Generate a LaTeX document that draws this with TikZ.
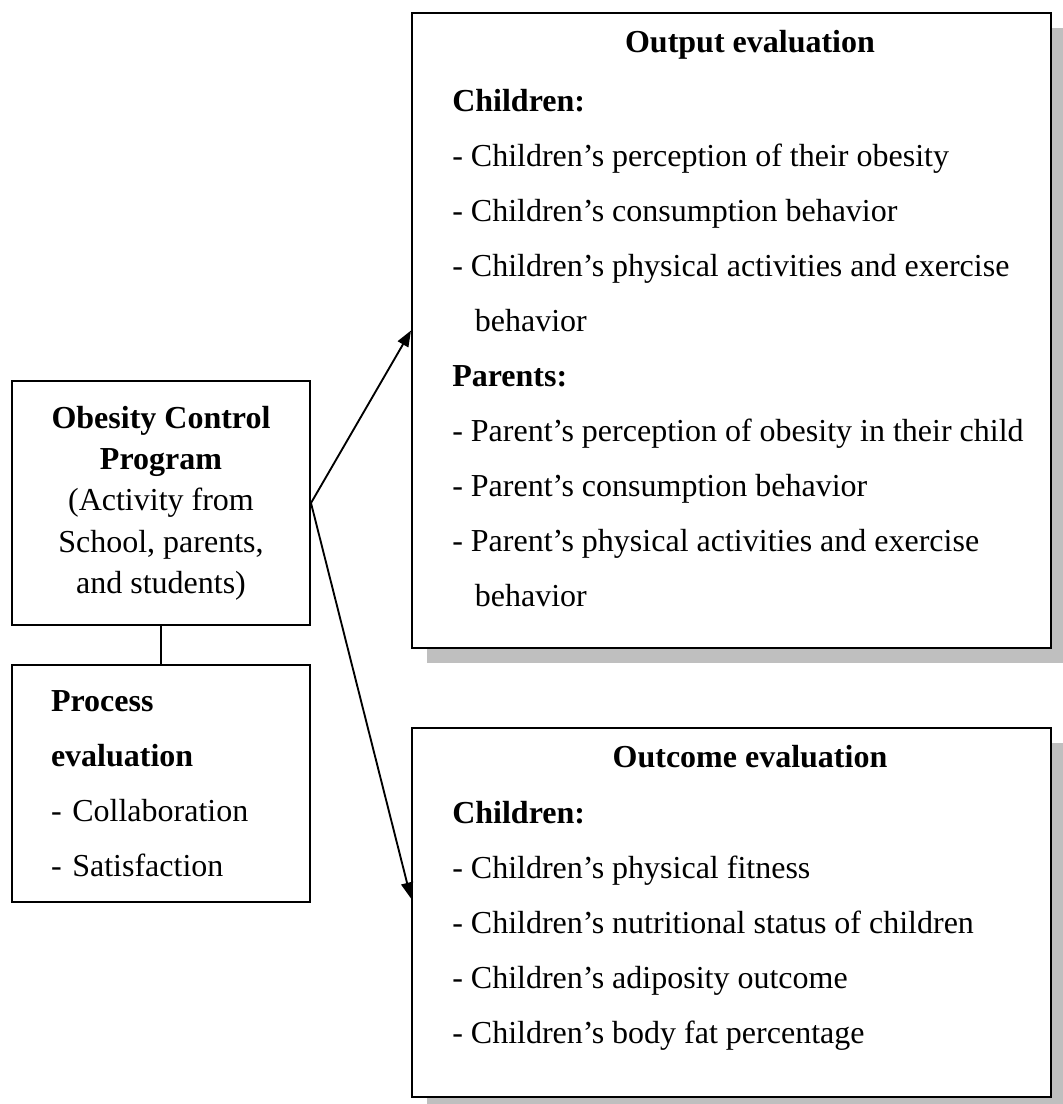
\documentclass[tikz,border=0pt]{standalone}
\usepackage{fontspec}
\setmainfont{Liberation Serif}
\usetikzlibrary{positioning, arrows.meta, shadows}

\begin{document}
\begin{tikzpicture}[
    x=0.75pt, y=-0.75pt,
    % Node styles
    box/.style={
        rectangle,
        draw=black,
        line width=1.5pt,
        fill=white,
        inner sep=0pt,
        align=center,
        font=\fontsize{24}{31}\selectfont
    },
    shadowbox/.style={
        box,
        drop shadow={shadow xshift=11pt, shadow yshift=-11pt, fill=black!25, opacity=1}
    },
    heading/.style={
        font=\fontsize{24}{29}\selectfont\bfseries,
        inner sep=0pt,
        anchor=base
    },
    itemlist/.style={
        align=left,
        font=\fontsize{24}{41.25}\selectfont,
        inner sep=0pt,
        anchor=base west
    },
    arrow/.style={
        -{Triangle[length=12pt, width=9pt]},
        line width=1.4pt
    },
    link/.style={line width=1.4pt}
]
\useasboundingbox (0,0) rectangle (1063,1104);

% Program and process boxes
\node[box, minimum width=223.5pt, minimum height=183pt] (prog) at (161,503) {
    \textbf{Obesity Control}\\
    \textbf{Program}\\
    (Activity from\\
    School, parents,\\
    and students)
};
\node[box, minimum width=223.5pt, minimum height=177.75pt, text width=165pt, align=left,
      font=\fontsize{24}{41.25}\selectfont] (proc) at (161,783.5) {
    \textbf{Process}\\
    \textbf{evaluation}\\
    - Collaboration\\
    - Satisfaction
};

% Output evaluation (list anchored at its last baseline)
\node[shadowbox, minimum width=479.25pt, minimum height=476.25pt] (output) at (731.5,330.5) {};
\node[heading] (outtitle) at (750,52) {Output evaluation};
\node[itemlist] (outlist) at (452,606) {
    \textbf{Children:}\\
    - Children’s perception of their obesity\\
    - Children’s consumption behavior\\
    - Children’s physical activities and exercise\\
    \hspace*{17pt}behavior\\
    \textbf{Parents:}\\
    - Parent’s perception of obesity in their child\\
    - Parent’s consumption behavior\\
    - Parent’s physical activities and exercise\\
    \hspace*{17pt}behavior
};

% Outcome evaluation
\node[shadowbox, minimum width=479.25pt, minimum height=276.75pt] (outcome) at (731.5,912.5) {};
\node[heading] (inctitle) at (750,767) {Outcome evaluation};
\node[itemlist] (inclist) at (452,1043) {
    \textbf{Children:}\\
    - Children’s physical fitness\\
    - Children’s nutritional status of children\\
    - Children’s adiposity outcome\\
    - Children’s body fat percentage
};

% Connectors
\draw[link] (prog) -- (proc);
\draw[arrow] (prog.east) -- (output.west);
\draw[arrow] (prog.east) -- ([yshift=10.5pt]outcome.west);

\end{tikzpicture}
\end{document}
